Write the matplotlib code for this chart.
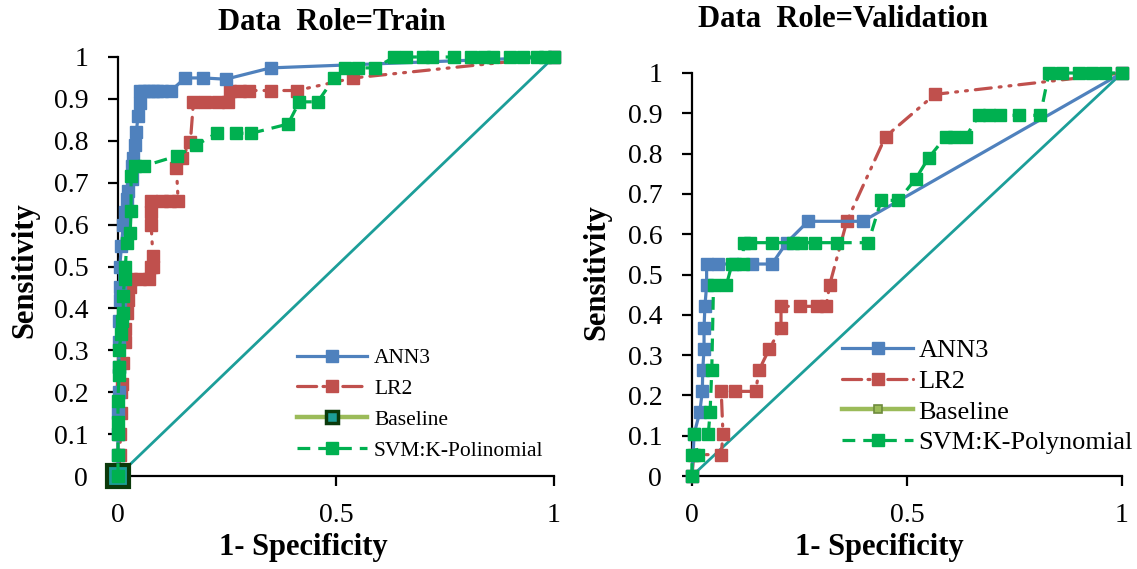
import matplotlib
matplotlib.use("Agg")
import matplotlib.pyplot as plt
from matplotlib.lines import Line2D
from matplotlib.ticker import FixedLocator, FixedFormatter

plt.rcParams['font.family'] = ['Liberation Serif', 'DejaVu Serif']

# ---------------- data ----------------
# Train
train_ann3_x = [0, 0.0, 0.0, 0.0, 0.002, 0.002, 0.002, 0.002, 0.004, 0.004, 0.004, 0.008, 0.012,
                0.017, 0.02, 0.023, 0.031, 0.033, 0.035, 0.038, 0.042, 0.046, 0.05, 0.05, 0.06, 0.07,
                0.08, 0.09, 0.10, 0.122, 0.154, 0.196, 0.247, 0.35, 1.0]
train_ann3_y = [0, 0.05, 0.1, 0.15, 0.2, 0.26, 0.32, 0.37, 0.42, 0.45, 0.5, 0.55, 0.6,
                0.63, 0.66, 0.68, 0.71, 0.74, 0.76, 0.79, 0.82, 0.86, 0.89, 0.92, 0.92, 0.92,
                0.92, 0.92, 0.92, 0.92, 0.95, 0.95, 0.947, 0.974, 1.0]

train_lr2_x = [0, 0.005, 0.005, 0.006, 0.008, 0.01, 0.012, 0.015, 0.017, 0.02, 0.023, 0.027, 0.03,
               0.05, 0.07, 0.075, 0.08, 0.08, 0.076, 0.076, 0.076, 0.1, 0.12, 0.138, 0.134, 0.147,
               0.166, 0.173, 0.2, 0.23, 0.253, 0.258, 0.28, 0.30, 0.35, 0.41, 0.54, 1.0]
train_lr2_y = [0, 0.05, 0.1, 0.15, 0.2, 0.22, 0.27, 0.32, 0.35, 0.39, 0.42, 0.45, 0.47,
               0.47, 0.47, 0.5, 0.5, 0.525, 0.6, 0.63, 0.656, 0.656, 0.656, 0.656, 0.736, 0.76,
               0.797, 0.893, 0.893, 0.893, 0.893, 0.92, 0.92, 0.92, 0.92, 0.92, 0.95, 1.0]

train_svm_x = [0, 0.0, 0.0, 0.0, 0.0, 0.002, 0.002, 0.002, 0.008, 0.01, 0.012, 0.012, 0.015, 0.017,
               0.02, 0.028, 0.03, 0.03, 0.038, 0.06, 0.136, 0.18, 0.226, 0.27, 0.306, 0.39, 0.416,
               0.458, 0.496, 0.52, 0.55, 0.59, 0.634, 0.66, 0.70, 0.72, 0.77, 0.81, 0.84, 0.86,
               0.9, 0.93, 0.96, 0.98, 1.0]
train_svm_y = [0, 0.05, 0.1, 0.13, 0.18, 0.24, 0.26, 0.3, 0.34, 0.37, 0.39, 0.43, 0.47, 0.5,
               0.557, 0.581, 0.633, 0.715, 0.74, 0.74, 0.764, 0.79, 0.818, 0.818, 0.818, 0.84, 0.893,
               0.893, 0.95, 0.974, 0.974, 0.974, 1.0, 1.0, 1.0, 1.0, 1.0, 1.0, 1.0, 1.0,
               1.0, 1.0, 1.0, 1.0, 1.0]

# Validation
val_ann3_x = [0, 0.005, 0.018, 0.024, 0.025, 0.028, 0.028, 0.03, 0.034, 0.034, 0.06, 0.1, 0.14,
              0.186, 0.22, 0.27, 0.397, 1.0]
val_ann3_y = [0, 0.105, 0.158, 0.21, 0.263, 0.316, 0.368, 0.421, 0.474, 0.526, 0.526, 0.526, 0.526,
              0.526, 0.579, 0.632, 0.632, 1.0]

val_lr2_x = [0, 0.004, 0.068, 0.072, 0.068, 0.10, 0.148, 0.156, 0.18, 0.207, 0.207, 0.25, 0.29,
             0.312, 0.32, 0.36, 0.45, 0.565, 1.0]
val_lr2_y = [0, 0.053, 0.053, 0.105, 0.21, 0.21, 0.21, 0.263, 0.316, 0.368, 0.421, 0.421, 0.421,
             0.421, 0.474, 0.632, 0.842, 0.947, 1.0]

val_svm_x = [0, 0.0, 0.013, 0.004, 0.038, 0.042, 0.046, 0.05, 0.08, 0.093, 0.118, 0.12, 0.135,
             0.186, 0.236, 0.253, 0.287, 0.338, 0.41, 0.44, 0.48, 0.52, 0.55, 0.59, 0.61, 0.637,
             0.667, 0.69, 0.717, 0.76, 0.81, 0.83, 0.86, 0.9, 0.93, 0.96, 1.0]
val_svm_y = [0, 0.053, 0.053, 0.105, 0.105, 0.158, 0.263, 0.474, 0.474, 0.526, 0.526, 0.579, 0.579,
             0.579, 0.579, 0.579, 0.579, 0.579, 0.579, 0.684, 0.684, 0.737, 0.789, 0.842, 0.842, 0.842,
             0.895, 0.895, 0.895, 0.895, 0.895, 1.0, 1.0, 1.0, 1.0, 1.0, 1.0]

baseline_x = [0, 1]
baseline_y = [0, 1]

x_ticks = [0, 0.5, 1]
x_tick_labels = ["0", "0.5", "1"]
y_ticks = [0, 0.1, 0.2, 0.3, 0.4, 0.5, 0.6, 0.7, 0.8, 0.9, 1.0]
y_tick_labels = ["0", "0.1", "0.2", "0.3", "0.4", "0.5", "0.6", "0.7", "0.8", "0.9", "1"]

series_names_train = ["ANN3", "LR2", "Baseline", "SVM:K-Polinomial"]
series_names_val = ["ANN3", "LR2", "Baseline", "SVM:K-Polynomial"]
titles = ["Data  Role=Train", "Data  Role=Validation"]

# ---------------- style ----------------
BLUE = '#4F81BD'
RED = '#C0504D'
GREEN = '#00B050'
TEAL = '#1C9E99'
OLIVE = '#9BBB59'
DKGREEN = '#0B3A0B'
LW = 2.3
MS = 8
LR_DASH = (5, 2.5, 0.6, 2.5, 0.6, 2.5)
SVM_DASH = (4, 2.5)

W, H = 1137, 569
fig = plt.figure(figsize=(W / 100, H / 100), dpi=100)

def px_rect(x0, x1, ytop, ybot):
    return [x0 / W, 1 - ybot / H, (x1 - x0) / W, (ybot - ytop) / H]

axL = fig.add_axes(px_rect(118, 554, 57, 476))
axR = fig.add_axes(px_rect(692, 1122, 73, 476))


def style_axes(ax):
    ax.set_xlim(0, 1)
    ax.set_ylim(0, 1)
    for s in ['top', 'right']:
        ax.spines[s].set_visible(False)
    for s in ['left', 'bottom']:
        ax.spines[s].set_linewidth(1.6)
        ax.spines[s].set_color('black')
    ax.xaxis.set_major_locator(FixedLocator(x_ticks))
    ax.xaxis.set_major_formatter(FixedFormatter(x_tick_labels))
    ax.yaxis.set_major_locator(FixedLocator(y_ticks))
    ax.yaxis.set_major_formatter(FixedFormatter(y_tick_labels))
    ax.tick_params(axis='both', direction='out', length=7.5, width=1.6, labelsize=20, color='black')
    ax.tick_params(axis='y', pad=14)
    ax.tick_params(axis='x', pad=12)
    ax.set_facecolor('none')


def draw(ax, ann_x, ann_y, lr_x, lr_y, svm_x, svm_y, base_marker):
    ax.plot(baseline_x, baseline_y, color=TEAL, lw=2.0, zorder=2, clip_on=False)
    ax.plot(ann_x, ann_y, color=BLUE, lw=LW, marker='s', ms=MS, zorder=4, clip_on=False)
    ax.plot(lr_x, lr_y, color=RED, lw=LW, marker='s', ms=MS, dashes=LR_DASH,
            dash_capstyle='round', zorder=3, clip_on=False)
    if base_marker:
        ax.plot(baseline_x[:1], baseline_y[:1], ls='none', marker='s', ms=16, mfc=TEAL,
                mec=DKGREEN, mew=3, zorder=5, clip_on=False)
    ax.plot(svm_x, svm_y, color=GREEN, lw=LW, marker='s', ms=MS, dashes=SVM_DASH,
            zorder=6, clip_on=False)


style_axes(axL)
style_axes(axR)
draw(axL, train_ann3_x, train_ann3_y, train_lr2_x, train_lr2_y, train_svm_x, train_svm_y, True)
draw(axR, val_ann3_x, val_ann3_y, val_lr2_x, val_lr2_y, val_svm_x, val_svm_y, False)


def legend_handles(big_base, names):
    return [
        Line2D([], [], color=BLUE, lw=LW, marker='s', ms=MS, label=names[0]),
        Line2D([], [], color=RED, lw=LW, marker='s', ms=MS, dashes=(6, 2, 0.6, 2.5, 0.6, 2.5),
               dash_capstyle='round', label=names[1]),
        Line2D([], [], color=OLIVE, lw=3.2, marker='s', ms=(9 if big_base else 6),
               mfc=(TEAL if big_base else OLIVE), mec=(DKGREEN if big_base else '#6E8B3D'),
               mew=(2.5 if big_base else 1.2), label=names[2]),
        Line2D([], [], color=GREEN, lw=LW, marker='s', ms=MS, dashes=(4, 2.5), label=names[3]),
    ]


fs_legL = 15.5
fig.legend(handles=legend_handles(True, series_names_train), loc='upper left',
           bbox_to_anchor=(297 / W, 1 - 348 / H), bbox_transform=fig.transFigure,
           frameon=False, fontsize=fs_legL, borderpad=0, borderaxespad=0,
           handlelength=3.25, handletextpad=0.33, labelspacing=0.5)

fs_legR = 19
fig.legend(handles=legend_handles(False, series_names_val), loc='upper left',
           bbox_to_anchor=(842 / W, 1 - 339 / H), bbox_transform=fig.transFigure,
           frameon=False, fontsize=fs_legR, borderpad=0, borderaxespad=0,
           handlelength=2.7, handletextpad=0.2, labelspacing=0.27)

# titles and axis labels
fig.text(332 / W, 1 - 30 / H, titles[0], ha='center', va='baseline', fontsize=22, fontweight='bold')
fig.text(843 / W, 1 - 27 / H, titles[1], ha='center', va='baseline', fontsize=22, fontweight='bold')
fig.text(303 / W, 1 - 548 / H, "1- Specificity", ha='center', va='center', fontsize=22, fontweight='bold')
fig.text(879 / W, 1 - 548 / H, "1- Specificity", ha='center', va='center', fontsize=22, fontweight='bold')
fig.text(25 / W, 1 - 270 / H, "Sensitivity", ha='center', va='center', rotation=90, fontsize=22, fontweight='bold')
fig.text(597 / W, 1 - 272 / H, "Sensitivity", ha='center', va='center', rotation=90, fontsize=22, fontweight='bold')

fig.savefig('out.png', dpi=100, facecolor='white')
